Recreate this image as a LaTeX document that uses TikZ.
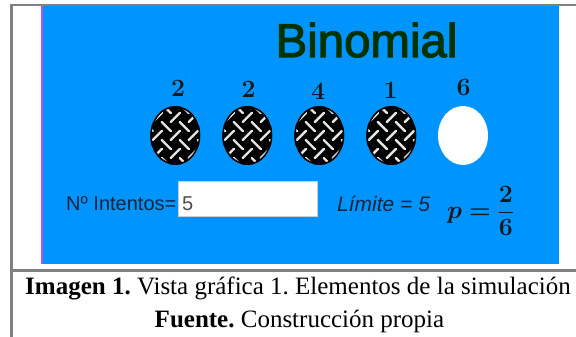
\documentclass[tikz,border=0pt]{standalone}
\usepackage{amsmath}
\usepackage[no-math]{fontspec}
\usetikzlibrary{shapes.geometric}
\setmainfont{Liberation Serif}
\newfontfamily\sansface{Liberation Sans}
\newfontfamily\titleface[FakeBold=2.5]{Liberation Sans}
\definecolor{panelblue}{HTML}{0094FF}
\definecolor{framegray}{HTML}{808080}
\definecolor{titlegreen}{HTML}{003300}
\definecolor{edgepink}{HTML}{C050D8}
\definecolor{inklabel}{HTML}{10243A}
\tikzset{
  countlabel/.style={inner sep=0pt,font=\fontsize{23}{23}\selectfont,text=black!90},
  uilabel/.style={inner sep=0pt,anchor=base west,text=inklabel,font=\sansface\fontsize{20}{20}\selectfont},
  captionline/.style={inner sep=0pt,anchor=base,font=\frenchspacing\fontsize{25}{26}\selectfont},
  weavestroke/.style={draw=white!90!black,line width=2.4pt,line cap=round}
}
% Round counter with a basket-weave plate texture
\newcommand{\weaveball}[3]{%
  \begin{scope}
    \clip (#1,#2) ellipse [x radius=25,y radius=29.5];
    \fill[black] (#1,#2) ellipse [x radius=25,y radius=29.5];
    \foreach \i in {-3,...,3}{
      \foreach \j in {-3,...,3}{
        \pgfmathsetmacro{\cx}{#1+(\i+\j)*9}
        \pgfmathsetmacro{\cy}{#2+(\i-\j)*9}
        \pgfmathparse{int(mod(\i+\j+6,2))}
        \ifnum\pgfmathresult=0
          \draw[weavestroke] (\cx-4.6,\cy+4.6) -- (\cx+4.6,\cy-4.6);
        \else
          \draw[weavestroke] (\cx-4.6,\cy-4.6) -- (\cx+4.6,\cy+4.6);
        \fi
      }
    }
    \draw[black,line width=3pt] (#1,#2) ellipse [x radius=25,y radius=29.5];
  \end{scope}
  \node[inner sep=0pt,minimum width=50pt,minimum height=59pt,ellipse] (#3) at (#1,#2) {};
}
\begin{document}
\begin{tikzpicture}[x=1pt,y=-1pt]
\useasboundingbox (0,0) rectangle (576,337);
\fill[white] (0,0) rectangle (576,337);
% Simulation panel
\fill[panelblue] (41,6.5) rectangle (559,264);
\fill[edgepink] (41,6.5) rectangle (43,264);
% Table rules
\fill[framegray] (10,4) rectangle (576,6.5);
\fill[framegray] (10,4) rectangle (13,337);
\fill[framegray] (13,269) rectangle (576,271.5);

\node[inner sep=0pt,anchor=base,text=titlegreen,font=\titleface\fontsize{47.4}{48}\selectfont] (title) at (366.5,57) {Binomial};

\weaveball{175.3}{135.5}{b1}
\weaveball{247.3}{135.5}{b2}
\weaveball{319.3}{135.5}{b3}
\weaveball{391.3}{135.5}{b4}
\node[ellipse,fill=white,inner sep=0pt,minimum width=50pt,minimum height=59pt] (b5) at (463,135.5) {};

\node[countlabel] (c1) at (178,88) {$\mathbf{2}$};
\node[countlabel] (c2) at (248.5,89.5) {$\mathbf{2}$};
\node[countlabel] (c3) at (318,91) {$\mathbf{4}$};
\node[countlabel] (c4) at (390.5,90) {$\mathbf{1}$};
\node[countlabel] (c5) at (463.5,87.5) {$\mathbf{6}$};

\node[uilabel] (intentos) at (66,210) {Nº Intentos=};
\node[draw=black!20,fill=white,line width=1pt,inner sep=0pt,minimum width=139pt,minimum height=35pt,anchor=north west] (input) at (178,180.5) {};
\node[uilabel,text=black!70] (inputval) at (182,210) {5};
\node[uilabel,font=\sansface\itshape\fontsize{21}{21}\selectfont] (limite) at (337,211) {Límite = 5};
\node[inner sep=0pt,anchor=west,text=black!90,font=\fontsize{27}{28}\selectfont] (prob) at (447,211) {$\boldsymbol{p}\boldsymbol{=}\dfrac{\mathbf{2}}{\mathbf{6}}$};

\node[captionline] (cap1) at (298,294) {\textbf{Imagen 1.} Vista gráfica 1. Elementos de la simulación};
\node[captionline] (cap2) at (299.5,327) {\textbf{Fuente.} Construcción propia};
\end{tikzpicture}
\end{document}
